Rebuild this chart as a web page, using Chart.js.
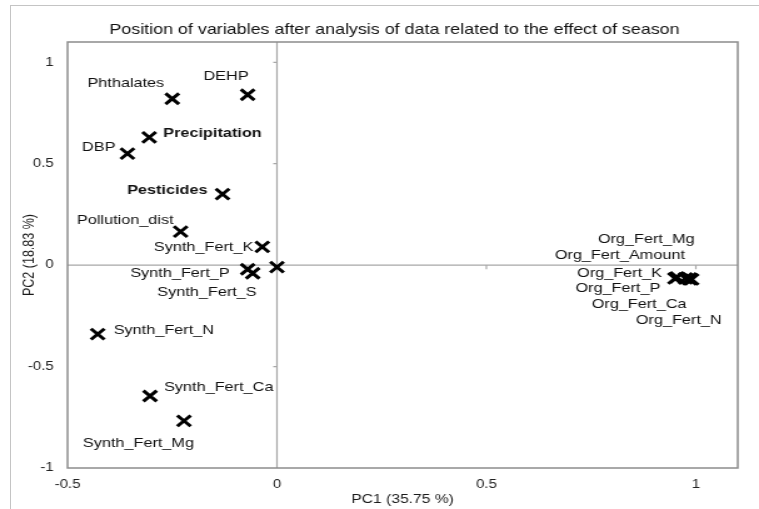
<!DOCTYPE html>
<html>
<head>
<meta charset="utf-8">
<script src="https://cdn.jsdelivr.net/npm/chart.js@4/dist/chart.umd.min.js"></script>
<style>
  html, body { margin: 0; padding: 0; background: #fff; overflow: hidden; }
  #frame { position: absolute; left: 10px; top: 5px; width: 800px; height: 600px; border: 1.5px solid #c4c4c4; }
  #wrap { position: absolute; left: 0; top: 0; width: 607px; height: 509px; transform-origin: 0 0; transform: scaleX(1.2504); }
</style>
</head>
<body>
<div id="frame"></div>
<div id="wrap"><canvas id="pca"></canvas></div>
<script>
// the reference is stretched sideways, so the chart is drawn narrow and scaled
const SX = 759 / 607;

const chartTitle = 'Position of variables after analysis of data related to the effect of season';
const xTitle = 'PC1 (35.75 %)';
const yTitle = 'PC2 (18.83 %)';

const varNames = [
  'Phthalates', 'DEHP', 'Precipitation', 'DBP', 'Pesticides', 'Pollution_dist',
  'Synth_Fert_K', 'Synth_Fert_P', 'Synth_Fert_S', '', 'Synth_Fert_N',
  'Synth_Fert_Ca', 'Synth_Fert_Mg',
  'Org_Fert_Mg', 'Org_Fert_Amount', 'Org_Fert_K', 'Org_Fert_P', 'Org_Fert_Ca', 'Org_Fert_N'
];
const pc1 = [
  -0.25, -0.07, -0.305, -0.357, -0.13, -0.23,
  -0.035, -0.07, -0.058, 0, -0.428,
  -0.303, -0.222,
  0.985, 0.95, 0.955, 0.975, 0.985, 0.99
];
const pc2 = [
  0.82, 0.84, 0.63, 0.55, 0.35, 0.165,
  0.09, -0.02, -0.04, -0.01, -0.34,
  -0.645, -0.768,
  -0.07, -0.065, -0.06, -0.065, -0.065, -0.07
];
const boldVars = ['Precipitation', 'Pesticides'];

// label placement next to each marker: [textAlign, dx, dy] in screen pixels
const labelLayout = {
  'Phthalates': ['right', -8, -15],
  'DEHP': ['right', 1, -18],
  'Precipitation': ['left', 14, -4],
  'DBP': ['right', -12, -6],
  'Pesticides': ['right', -15, -4],
  'Pollution_dist': ['right', -7, -11],
  'Synth_Fert_K': ['right', -9, 1],
  'Synth_Fert_P': ['right', -18, 4],
  'Synth_Fert_S': ['right', 4, 19],
  'Synth_Fert_N': ['left', 16, -4],
  'Synth_Fert_Ca': ['left', 14, -9],
  'Synth_Fert_Mg': ['right', 10, 22],
  'Org_Fert_Mg': ['right', 5, -40],
  'Org_Fert_Amount': ['right', 10, -23],
  'Org_Fert_K': ['right', -15, -4],
  'Org_Fert_P': ['right', -25, 10],
  'Org_Fert_Ca': ['right', -3, 26],
  'Org_Fert_N': ['right', 30, 41]
};

const FONT = '"Liberation Sans", Arial, sans-serif';

const pcaDecor = {
  id: 'pcaDecor',
  beforeDatasetsDraw(chart) {
    const { ctx, chartArea: a, scales: { x, y } } = chart;
    const x0 = x.getPixelForValue(0);
    const y0 = y.getPixelForValue(0);
    ctx.save();
    ctx.strokeStyle = '#a8a8a8';
    ctx.lineWidth = 1.2;
    ctx.beginPath();
    ctx.moveTo(a.left, y0); ctx.lineTo(a.right, y0);
    ctx.moveTo(x0, a.top); ctx.lineTo(x0, a.bottom);
    [-0.5, 0.5, 1].forEach(v => {
      const py = y.getPixelForValue(v);
      ctx.moveTo(x0 - 3, py); ctx.lineTo(x0, py);
    });
    [0.5, 1].forEach(v => {
      const px = x.getPixelForValue(v);
      ctx.moveTo(px, y0); ctx.lineTo(px, y0 + 4);
    });
    ctx.stroke();
    ctx.strokeStyle = '#8c8c8c';
    ctx.lineWidth = 1.5;
    ctx.strokeRect(a.left, a.top, a.right - a.left, a.bottom - a.top);
    ctx.restore();
  },
  afterDatasetsDraw(chart) {
    const { ctx, chartArea: a } = chart;
    const pts = chart.getDatasetMeta(0).data;
    ctx.save();
    ctx.fillStyle = '#111';
    ctx.textBaseline = 'middle';
    varNames.forEach((name, i) => {
      const lay = labelLayout[name];
      if (!lay) return;
      ctx.font = (boldVars.includes(name) ? 'bold ' : '') + '13px ' + FONT;
      ctx.textAlign = lay[0];
      ctx.fillText(name, pts[i].x + lay[1] / SX, pts[i].y + lay[2]);
    });
    ctx.font = '14.3px ' + FONT;
    ctx.textAlign = 'center';
    ctx.fillText(chartTitle, (a.left + a.right) / 2 - 6.5, 30.5);
    ctx.restore();
  }
};

const tickText = v => String(Math.round(v * 10) / 10);

new Chart(document.getElementById('pca'), {
  type: 'scatter',
  data: {
    datasets: [{
      label: 'Variables',
      data: pc1.map((v, i) => ({ x: v, y: pc2[i] })),
      pointStyle: 'crossRot',
      pointRadius: 7.6,
      pointBorderWidth: 3,
      borderColor: '#000',
      backgroundColor: '#000'
    }]
  },
  options: {
    responsive: true,
    maintainAspectRatio: false,
    animation: false,
    events: [],
    layout: { padding: { left: 8, top: 42, right: 17, bottom: 0 } },
    plugins: {
      legend: { display: false },
      tooltip: { enabled: false }
    },
    scales: {
      x: {
        type: 'linear',
        min: -0.5,
        max: 1.1,
        grid: { display: false, drawTicks: false },
        border: { display: false },
        ticks: { stepSize: 0.5, includeBounds: false, padding: 9, color: '#222', callback: tickText, font: { family: FONT, size: 12 } },
        title: { display: true, text: xTitle, color: '#1a1a1a', padding: { top: 0, bottom: 1.5 }, font: { family: FONT, size: 12.5 } },
        afterFit(scale) { scale.height = 41; }
      },
      y: {
        type: 'linear',
        min: -1,
        max: 1.1,
        grid: { display: false, drawTicks: false },
        border: { display: false },
        ticks: { stepSize: 0.5, includeBounds: false, padding: 11, color: '#222', callback: tickText, font: { family: FONT, size: 12 } },
        title: { display: true, text: yTitle, color: '#1a1a1a', padding: { top: 8.5, bottom: 0 }, font: { family: FONT, size: 12.5 } },
        afterFit(scale) { scale.width = 46; }
      }
    }
  },
  plugins: [pcaDecor]
});
</script>
</body>
</html>
